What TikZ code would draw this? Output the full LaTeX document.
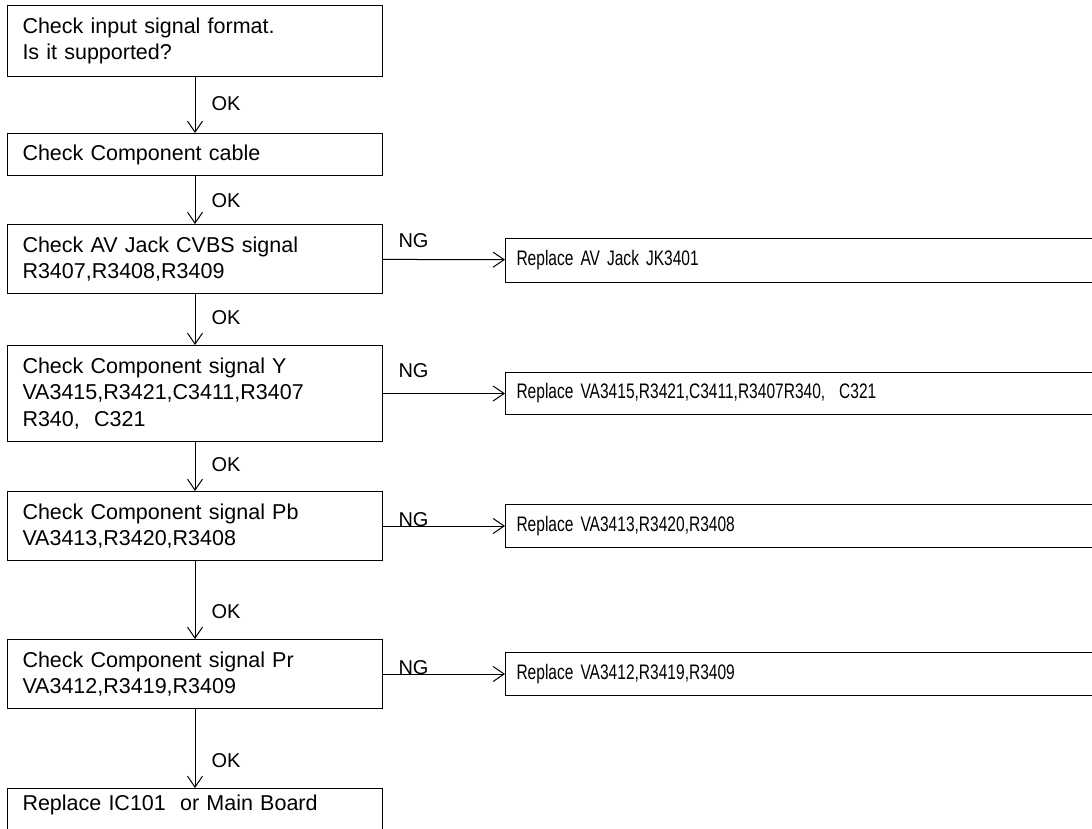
\documentclass[tikz,border=0pt]{standalone}
\usepackage{fontspec}
\setmainfont{Liberation Sans}
\newfontfamily\narrowsf{Liberation Sans}[FakeStretch=0.74]
\newcommand\fixfont{\narrowsf\fontsize{21}{24}\selectfont\fontdimen2\font=4pt\relax}
\usetikzlibrary{arrows.meta}

\begin{document}
\begin{tikzpicture}[
  x=1pt, y=-1pt,
  >={Straight Barb[length=11pt,width=15pt]},
  check/.style={draw, line width=1pt, anchor=north west, text width=345pt, inner xsep=15pt, inner ysep=0pt, align=left, font=\fontsize{21.5}{26.5}\selectfont},
  fix/.style={draw, line width=1pt, anchor=north west, text width=700pt, inner xsep=11pt, inner ysep=0pt, align=left, minimum height=43pt, font=\fixfont},
  flow/.style={->, line width=1pt},
  ok/.style={right=16pt, inner sep=0pt, font=\fontsize{20}{24}\selectfont},
  ng/.style={anchor=south west, inner sep=0pt, xshift=15pt, font=\fontsize{20}{24}\selectfont}
]
  \useasboundingbox (0,0) rectangle (1092,829);
  \clip (0,0) rectangle (1092,829);

  \node[check, minimum height=71pt] (fmt) at (7,5) {Check input signal format.\\Is it supported?};
  \node[check, minimum height=42pt] (cable) at (7,133) {Check Component cable};
  \node[check, minimum height=69pt] (cvbs) at (7,224) {Check AV Jack CVBS signal\\R3407,R3408,R3409};
  \node[check, minimum height=96pt] (sigy) at (7,345) {Check Component signal Y\\VA3415,R3421,C3411,R3407\\R340,~ C321};
  \node[check, minimum height=69pt] (sigpb) at (7,491) {Check Component signal Pb\\VA3413,R3420,R3408};
  \node[check, minimum height=69pt] (sigpr) at (7,639) {Check Component signal Pr\\VA3412,R3419,R3409};
  \node[check, inner ysep=6pt, text depth=40pt] (board) at (7,788) {Replace IC101~ or Main Board};

  \node[fix, minimum height=44pt] (jack) at (505,238) {Replace AV Jack JK3401};
  \node[fix, minimum height=42pt] (repy) at (505,372) {Replace VA3415,R3421,C3411,R3407R340,~ C321};
  \node[fix] (reppb) at (505,504) {Replace VA3413,R3420,R3408};
  \node[fix] (reppr) at (505,652) {Replace VA3412,R3419,R3409};

  \draw[flow] (fmt) -- node[ok, pos=0.47] {OK} (cable);
  \draw[flow] (cable) -- node[ok, pos=0.52] {OK} (cvbs);
  \draw[flow] (cvbs) -- node[ok, pos=0.47] {OK} (sigy);
  \draw[flow] (sigy) -- node[ok, pos=0.47] {OK} (sigpb);
  \draw[flow] (sigpb) -- node[ok, pos=0.65] {OK} (sigpr);
  \draw[flow] (sigpr) -- node[ok, pos=0.65] {OK} (board);

  \draw[flow] (cvbs) -- node[ng, pos=0, yshift=11pt] {NG} (jack);
  \draw[flow] (sigy) -- node[ng, pos=0, yshift=15pt] {NG} (repy);
  \draw[flow] (sigpb) -- node[ng, pos=0, yshift=-1pt] {NG} (reppb);
  \draw[flow] (sigpr) -- node[ng, pos=0, yshift=-1pt] {NG} (reppr);
\end{tikzpicture}
\end{document}
